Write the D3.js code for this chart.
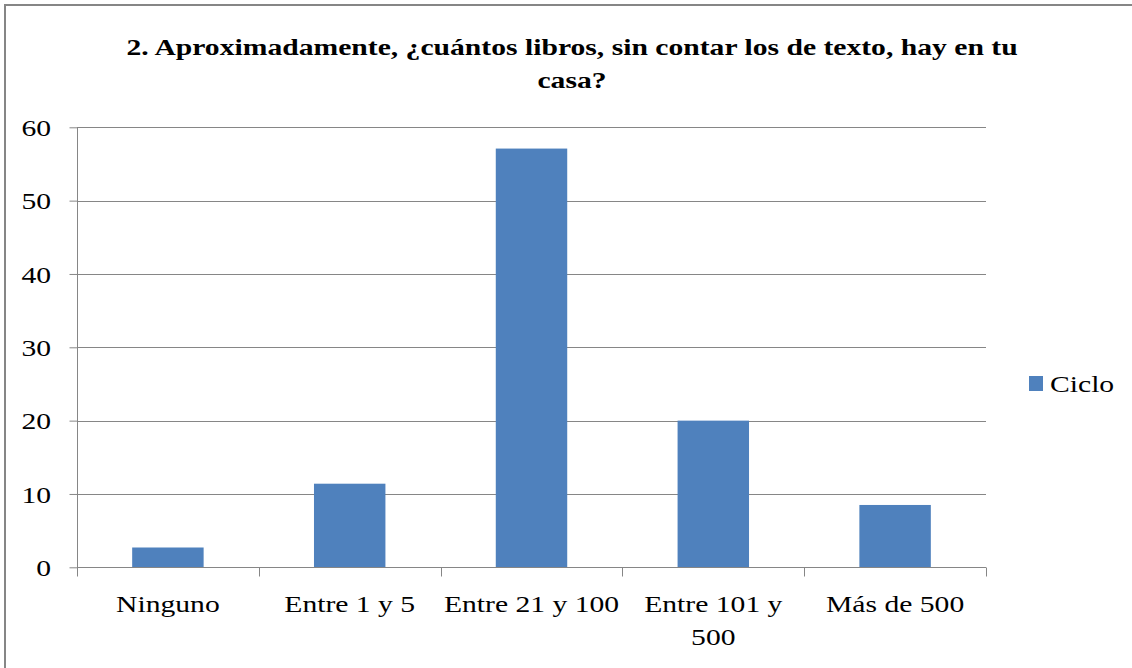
<!DOCTYPE html>
<html><head><meta charset="utf-8">
<script src="https://cdn.jsdelivr.net/npm/d3@7"></script>
<style>body{margin:0;background:#fff}svg{display:block}</style>
</head><body>
<script>
const categories = ["Ninguno", "Entre 1 y 5", "Entre 21 y 100", "Entre 101 y 500", "Más de 500"];
const categoryLines = [["Ninguno"], ["Entre 1 y 5"], ["Entre 21 y 100"], ["Entre 101 y", "500"], ["Más de 500"]];
const values = [2.7, 11.4, 57.1, 20, 8.5];
const seriesName = "Ciclo";
const yTicks = [0, 10, 20, 30, 40, 50, 60];
const titleLines = ["2. Aproximadamente, ¿cuántos libros, sin contar los de texto, hay en tu", "casa?"];

const W = 1132, H = 668;
const SX = 1.235; // horizontal stretch of the reference text
const svg = d3.select("body").append("svg").attr("width", W).attr("height", H);
const font = '"Liberation Serif"';
const grey = "#868686";

function addText(x, y, lines, opts = {}) {
  const t = svg.append("text")
    .attr("transform", `translate(${x},${y}) scale(${SX},1)`)
    .attr("text-anchor", opts.anchor || "start")
    .style("font-family", font).style("font-size", (opts.size || 24) + "px")
    .style("font-weight", opts.bold ? "bold" : "normal").attr("fill", "#000");
  lines.forEach((l, j) => t.append("tspan").attr("x", 0).attr("dy", j === 0 ? 0 : (opts.lh || 33)).text(l));
  return t;
}

// outer border (right and bottom edges fall outside the picture)
svg.append("rect").attr("x", 5).attr("y", 5).attr("width", 1140).attr("height", 680)
  .attr("fill", "none").attr("stroke", grey).attr("stroke-width", 2);

const plot = {left: 77, right: 986, top: 127.3, bottom: 567.3};
const x = d3.scaleBand().domain(categories).range([plot.left, plot.right]).paddingInner(0.607).paddingOuter(0.3035);
const xEdge = d3.scaleBand().domain(categories).range([plot.left, plot.right]);
const y = d3.scaleLinear().domain([0, 60]).range([plot.bottom, plot.top]);

// gridlines
svg.append("g").selectAll("line").data(yTicks.filter(d => d > 0)).join("line")
  .attr("x1", plot.left).attr("x2", plot.right)
  .attr("y1", d => Math.round(y(d)) + 0.5).attr("y2", d => Math.round(y(d)) + 0.5)
  .attr("stroke", grey).attr("stroke-width", 1);

// bars
svg.append("g").selectAll("rect").data(values).join("rect")
  .attr("x", (d, i) => x(categories[i])).attr("width", x.bandwidth())
  .attr("y", d => y(d)).attr("height", d => y(0) - y(d))
  .attr("fill", "#4F81BD");

// y axis
const yAxis = svg.append("g").attr("transform", `translate(${plot.left + 0.5},0)`)
  .call(d3.axisLeft(y).tickValues(yTicks).tickSize(8).tickPadding(18.5).tickFormat(d3.format("d")));
yAxis.attr("font-family", null).attr("font-size", null);
yAxis.select(".domain").attr("stroke", grey).attr("d", `M0,${plot.top}V${plot.bottom}`);
yAxis.selectAll(".tick line").attr("stroke", grey);
yAxis.selectAll(".tick text")
  .attr("x", -26.5 / SX).attr("dy", "0.34em")
  .attr("transform", `scale(${SX},1)`)
  .style("font-family", font).style("font-size", "24px").attr("fill", "#000");

// x axis
const xg = svg.append("g").attr("transform", `translate(0,${Math.round(plot.bottom) + 0.5})`);
xg.append("line").attr("x1", plot.left).attr("x2", plot.right).attr("stroke", grey);
const edges = categories.map(c => xEdge(c)).concat([plot.right]);
xg.selectAll("line.tk").data(edges).join("line").attr("class", "tk")
  .attr("x1", d => Math.round(d) + 0.5).attr("x2", d => Math.round(d) + 0.5)
  .attr("y1", 0).attr("y2", 9).attr("stroke", grey);
categoryLines.forEach((lines, i) => {
  const cx = xEdge(categories[i]) + xEdge.bandwidth() / 2;
  addText(cx, 612, lines, {anchor: "middle"});
});

// title
addText(572, 55, titleLines, {anchor: "middle", bold: true, size: 24});

// legend
svg.append("rect").attr("x", 1029).attr("y", 376).attr("width", 14).attr("height", 15).attr("fill", "#4F81BD");
addText(1050, 392, [seriesName]);
</script>
</body></html>
